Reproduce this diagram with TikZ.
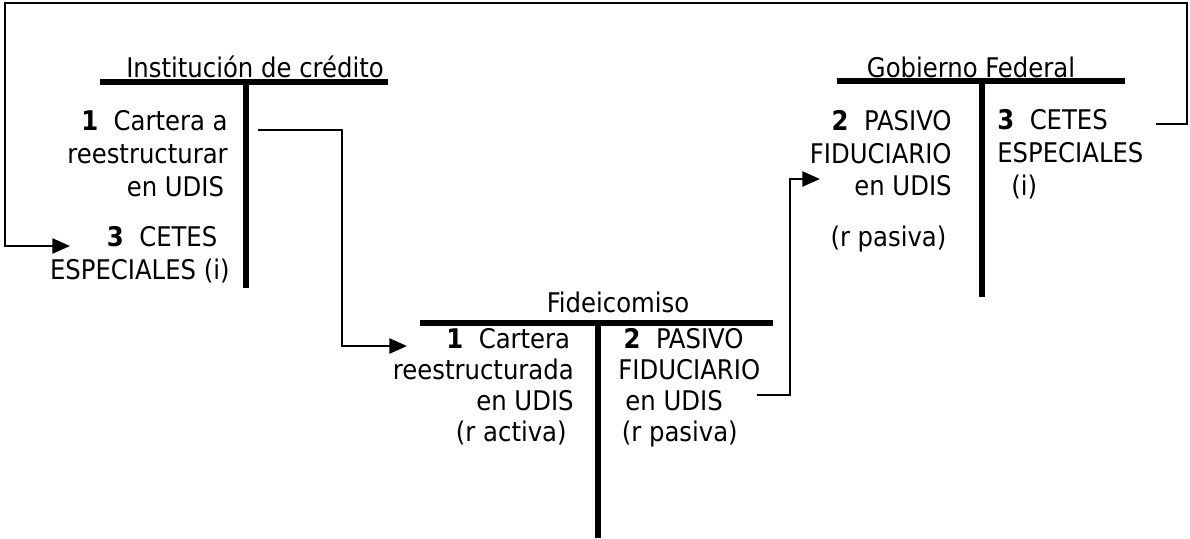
\documentclass[tikz,border=0pt]{standalone}
\usepackage{fontspec}
\setmainfont{DejaVu Sans Condensed}
\usetikzlibrary{arrows.meta}
\tikzset{
  tbar/.style={line width=3.4pt},
  link/.style={line width=1.4pt, -{Triangle[length=10pt, width=8.5pt]}},
  acct/.style={font=\fontsize{15.4}{18.6}\selectfont, inner sep=0pt},
  tight/.style={font=\fontsize{15.4}{17.6}\selectfont},
}
\begin{document}
\begin{tikzpicture}[x=0.02cm, y=-0.02cm]%
    \useasboundingbox (0,0) rectangle (1190,538);
    % Institucion de credito
    \node[acct, anchor=base] (ic) at (255,77) {Institución de crédito};
    \draw[tbar] (100,82) -- (388,82);
    \draw[tbar] (246,82) -- (246,288);
    \node[acct, anchor=base east, align=right]
      (ic-1) at (228,196) {\textbf{1}\ \ Cartera a\\reestructurar\hspace*{4pt}\\en UDIS\hspace*{2pt}};
    \node[acct, anchor=base east, align=right]
      (ic-3) at (230,279) {\textbf{3}\ \ CETES\hspace*{7pt}\\ESPECIALES (i)};

    % Fideicomiso
    \node[acct, anchor=base] (fid) at (618,312) {Fideicomiso};
    \draw[tbar] (420,323) -- (773,323);
    \draw[tbar] (598,323) -- (598,538);
    \node[acct, tight, anchor=base east, align=right]
      (fid-1) at (574,441) {\textbf{1}\ \ Cartera\hspace*{2pt}\\reestructurada\\en UDIS\\(r activa)\hspace*{4pt}};
    \node[acct, tight, anchor=base west, align=left]
      (fid-2) at (618,441) {\hspace*{3pt}\textbf{2}\ \ PASIVO\\FIDUCIARIO\\\hspace*{4pt}en UDIS\\\hspace*{2pt}(r pasiva)};

    % Gobierno Federal
    \node[acct, anchor=base] (gf) at (971,77) {Gobierno Federal};
    \draw[tbar] (837,81) -- (1125,81);
    \draw[tbar] (982,81) -- (982,297);
    \node[acct, anchor=base east, align=right]
      (gf-2) at (952,246) {\textbf{2}\ \ PASIVO\\FIDUCIARIO\\en UDIS\\[10pt](r pasiva)\hspace*{3pt}};
    \node[acct, anchor=base west, align=left]
      (gf-3) at (997,195) {\textbf{3}\ \ CETES\\ESPECIALES\\\hspace*{8pt}(i)};

    % movimientos
    \coordinate (ic-out) at (258,130);
    \coordinate (fid-in) at (407,346);
    \coordinate (fid-out) at (757,395);
    \coordinate (gf-in) at (820,179);
    \coordinate (gf-out) at (1156,124);
    \coordinate (top-r) at (1187,3);
    \coordinate (top-l) at (5,3);
    \coordinate (ic-in) at (70,246);
    \draw[link] (ic-out) -- ++(84,0) |- (fid-in);
    \draw[link] (fid-out) -- ++(33,0) |- (gf-in);
    \draw[link] (gf-out) -| (top-r) -- (top-l) |- (ic-in);
  \end{tikzpicture}
\end{document}
